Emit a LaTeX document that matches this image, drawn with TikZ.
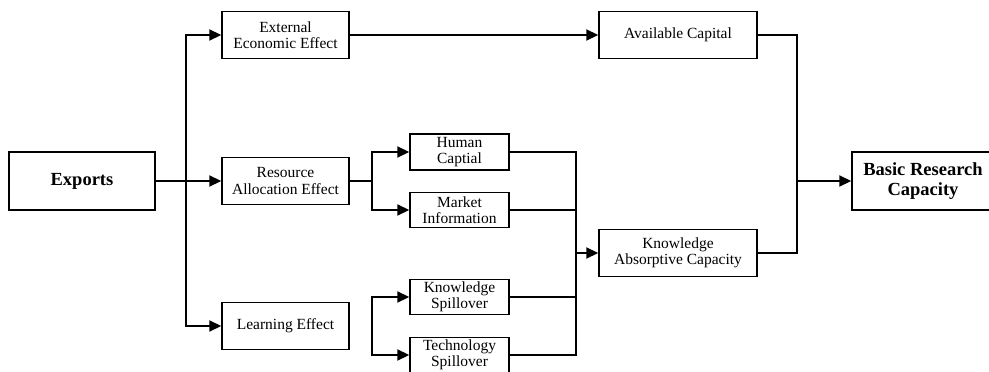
\documentclass[tikz,border=0pt]{standalone}
\usepackage{fontspec}
\setmainfont{Liberation Serif}
\usetikzlibrary{arrows.meta}
\tikzset{
  box/.style={draw, line width=1.4pt, rectangle, inner sep=0pt, align=center,
    font=\fontsize{15.5}{16.5}\selectfont},
  bigbox/.style={box, font=\fontsize{18.5}{20}\selectfont\bfseries},
  conn/.style={line width=1.8pt},
  arr/.style={conn, -{Triangle[length=12pt,width=11pt]}}
}
\begin{document}
\begin{tikzpicture}[x=1pt,y=-1pt]
\useasboundingbox (0,0) rectangle (989,372);
% nodes
\node[bigbox, minimum width=146pt, minimum height=58pt] (ex) at (82,181) {Exports};
\node[box, minimum width=127pt, minimum height=47pt] (eee) at (285.5,35) {External\\Economic Effect};
\node[box, minimum width=127pt, minimum height=47pt] (rae) at (285.5,181) {Resource\\Allocation Effect};
\node[box, minimum width=127pt, minimum height=47pt] (le) at (285.5,326) {Learning Effect};
\node[box, minimum width=99pt, minimum height=36pt] (hc) at (459.5,152) {Human\\Captial};
\node[box, minimum width=99pt, minimum height=35pt] (mi) at (459.5,210) {Market\\Information};
\node[box, minimum width=99pt, minimum height=35pt] (ks) at (459.5,297) {Knowledge\\Spillover};
\node[box, minimum width=99pt, minimum height=35pt] (ts) at (459.5,355) {Technology\\Spillover};
\node[box, minimum width=158pt, minimum height=47pt] (ac) at (678,35) {Available Capital};
\node[box, minimum width=158pt, minimum height=47pt] (kac) at (678,253) {Knowledge\\Absorptive Capacity};
\node[bigbox, minimum width=142pt, minimum height=58pt] (brc) at (923,181) {Basic Research\\Capacity};
% junctions
\coordinate (j1) at (186,181);
\coordinate (j2) at (372,181);
\coordinate (j3) at (372,326);
\coordinate (j4) at (576,253);
\coordinate (j5) at (797,181);
% connectors
\draw[conn] (ex.east) -- (j1);
\draw[arr] (j1) |- (eee.west);
\draw[arr] (j1) -- (rae.west);
\draw[arr] (j1) |- (le.west);
\draw[arr] (eee.east) -- (ac.west);
\draw[conn] (rae.east) -- (j2);
\draw[arr] (j2) |- (hc.west);
\draw[arr] (j2) |- (mi.west);
\draw[arr] (j3) |- (ks.west);
\draw[arr] (j3) |- (ts.west);
\draw[conn] (hc.east) -| (j4);
\draw[conn] (mi.east) -| (j4);
\draw[conn] (ks.east) -| (j4);
\draw[conn] (ts.east) -| (j4);
\draw[arr] (j4) -- (kac.west);
\draw[conn] (ac.east) -| (j5);
\draw[conn] (kac.east) -| (j5);
\draw[arr] (j5) -- (brc.west);
\end{tikzpicture}
\end{document}
